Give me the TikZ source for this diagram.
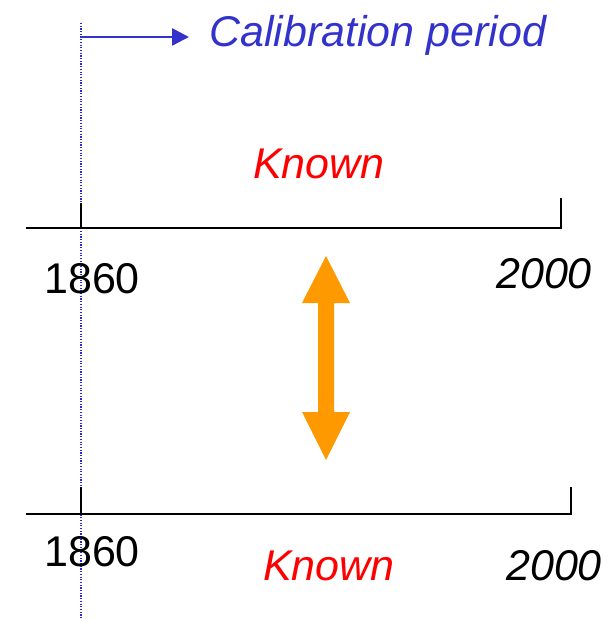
\documentclass[tikz,border=0pt]{standalone}
\usepackage{fontspec}
\setmainfont{Liberation Sans}
\usetikzlibrary{arrows.meta}
\definecolor{calblue}{HTML}{3333CC}
\definecolor{knownred}{HTML}{FF0000}
\definecolor{arroworange}{HTML}{FF9900}
\begin{document}
\begin{tikzpicture}[x=1pt,y=-1pt,
  big/.style={inner sep=0pt,font=\fontsize{43}{50}\selectfont},
  label/.style={big,anchor=base west},
  axisline/.style={line width=1.8pt,black},
  calline/.style={calblue!80!blue,line width=1.3pt,dash pattern=on 1.2pt off 1.5pt}]
\useasboundingbox (0,0) rectangle (615,620);
% dotted calibration marker
\coordinate (dtop) at (81,23);
\coordinate (dbot) at (81,620);
\draw[calline] (dtop) -- (dbot);
% calibration arrow
\coordinate (cstart) at (81,37);
\coordinate (cend) at (189,37);
\draw[calblue,line width=2.6pt,-{Triangle[length=17pt,width=17pt]}] (cstart) -- (cend);
\node[label,calblue] (cal) at (209,47) {\itshape Calibration period};
% upper timeline
\coordinate (u0) at (26,228);
\coordinate (u1) at (561,228);
\coordinate (u1t) at (561,198);
\coordinate (utick) at (81,203);
\coordinate (ubase) at (81,228);
\draw[axisline] (u0) -- (u1) -- (u1t);
\draw[axisline] (utick) -- (ubase);
\node[label,knownred] (known1) at (253,179) {\itshape Known};
\node[label] (y1860a) at (44,293) {1860};
\node[label] (y2000a) at (496,288) {\itshape 2000};
% lower timeline
\coordinate (l0) at (26,514);
\coordinate (l1) at (571,514);
\coordinate (l1t) at (571,487);
\coordinate (ltick) at (81,487);
\coordinate (lbase) at (81,514);
\draw[axisline] (l0) -- (l1) -- (l1t);
\draw[axisline] (ltick) -- (lbase);
\node[label] (y1860b) at (44,566) {1860};
\node[label,knownred] (known2) at (263,580) {\itshape Known};
\node[label] (y2000b) at (506,580) {\itshape 2000};
% orange double arrow
\fill[arroworange] (326,256) -- (350,303) -- (334,303) -- (334,412) -- (350,412)
  -- (326,460) -- (302,412) -- (318,412) -- (318,303) -- (302,303) -- cycle;
\end{tikzpicture}
\end{document}
